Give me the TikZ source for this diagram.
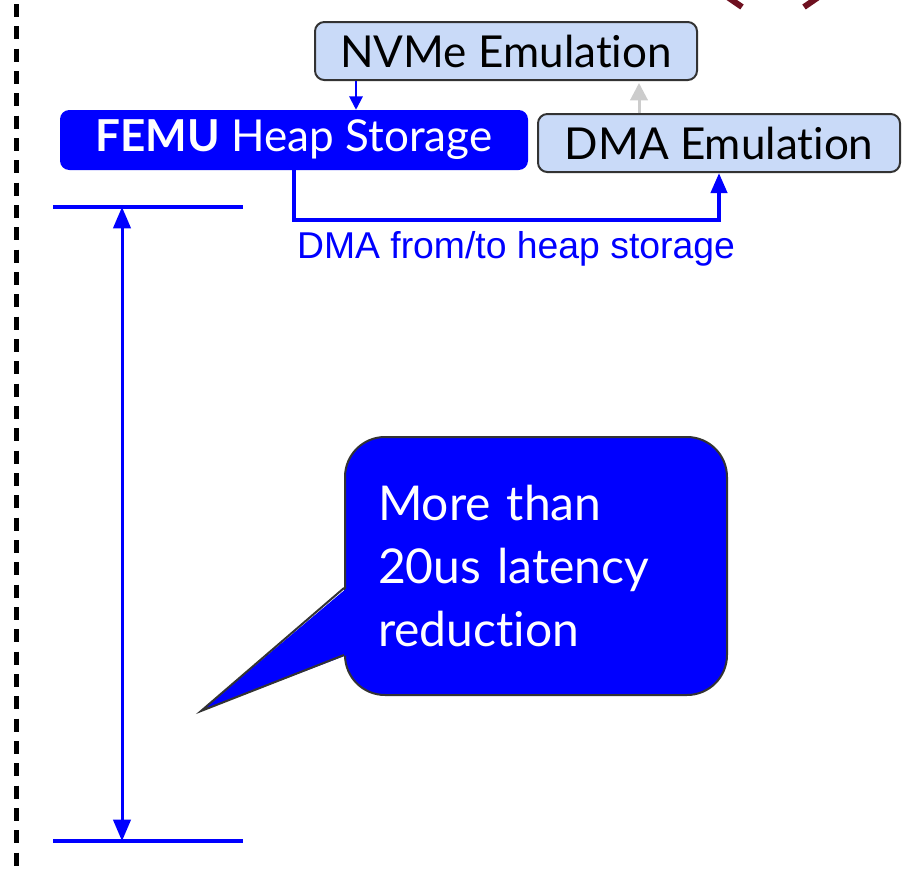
\documentclass[tikz,border=0pt]{standalone}
\usepackage{fontspec}
\setmainfont{Lato}[Ligatures={NoCommon, NoRequired, NoContextual}]
\newfontfamily\arialfont{Liberation Sans}
\usetikzlibrary{arrows.meta, positioning, calc}
\definecolor{femublue}{RGB}{0, 0, 255}
\definecolor{emulight}{RGB}{201, 218, 248}
\definecolor{edgegray}{RGB}{51, 51, 51}
\definecolor{tipgray}{RGB}{204, 204, 204}
\definecolor{titlemaroon}{RGB}{110, 16, 32}

\begin{document}
\begin{tikzpicture}[
  x=0.75pt, y=-0.75pt,
  emubox/.style={draw=edgegray, line width=1.5pt, fill=emulight, rounded corners=7pt, inner sep=0pt, font=\fontsize{33}{38}\selectfont},
  heapbox/.style={fill=femublue, text=white, rounded corners=7pt, inner sep=0pt, font=\fontsize{33}{38}\selectfont},
  calloutbox/.style={draw=edgegray, line width=1.5pt, fill=femublue, text=white, rounded corners=30pt, inner xsep=24.75pt, inner ysep=0pt, text width=237pt, align=left, font=\fontsize{36}{47}\selectfont},
  flowline/.style={draw=femublue, line width=1.5pt},
  spanline/.style={draw=femublue, line width=3pt}
]
  \useasboundingbox (0,0) rectangle (914,871);
  \clip (0,0) rectangle (914,871);

  % separator and cut-off title
  \draw[line width=3.75pt, dash pattern=on 9.75pt off 7pt] (16,4) -- (16,880);
  \draw[titlemaroon, line width=4.5pt] (726,-4) -- (742,7);
  \draw[titlemaroon, line width=4.5pt] (820,-4) -- (804,7);

  \node[emubox, minimum width=286.5pt, minimum height=43.5pt] (nvme) at (506,51) {NVMe Emulation};
  \node[heapbox, minimum width=351pt, minimum height=45pt] (femu) at (294,140) {\textbf{FEMU} Heap Storage};
  \node[emubox, minimum width=271.5pt, minimum height=43.5pt] (dmaemu) at (719,143) {DMA Emulation};

  \coordinate (nvmeOut) at ($(nvme.south west)+(42,0)$);
  \draw[flowline, -{Triangle[length=10pt, width=10pt]}] (nvmeOut) -- (nvmeOut |- femu.north);
  \coordinate (dmaOut) at ($(dmaemu.north west)+(102,0)$);
  \draw[draw=tipgray, line width=2.25pt, -{Triangle[length=13pt, width=13pt]}, shorten >=1.5pt] (dmaOut) -- (dmaOut |- nvme.south);

  \draw[flowline, line width=3pt, -{Triangle[length=15pt, width=12pt]}] (femu.south) -- ++(0,50) coordinate (heapBend) -| (dmaemu.south);
  \node[font=\arialfont\fontsize{28}{34}\selectfont, text=femublue, anchor=base, inner sep=0pt] (dmalabel) at (516,258) {DMA from/to heap storage};

  % latency span
  \coordinate (spanTop) at (122,207);
  \coordinate (spanBottom) at (122,841);
  \draw[spanline] ($(spanTop)+(-69,0)$) -- ($(spanTop)+(121,0)$);
  \draw[spanline] ($(spanBottom)+(-69,0)$) -- ($(spanBottom)+(121,0)$);
  \draw[flowline, line width=2.25pt, {Triangle[length=16pt, width=13pt]}-{Triangle[length=16pt, width=13pt]}] (spanTop) -- (spanBottom);

  \node[calloutbox, minimum width=286.5pt, minimum height=193.5pt] (callout) at (536,566) {More than\\20us latency\\reduction};
  \coordinate (calloutTip) at (201,711);
  \fill[femublue] ($(callout.west)+(3,22)$) -- (calloutTip) -- ($(callout.west)+(3,89)$) -- cycle;
  \draw[edgegray, line width=1.5pt, line join=miter] ($(callout.west)+(0,22)$) -- (calloutTip) -- ($(callout.west)+(0,89)$);
\end{tikzpicture}
\end{document}
